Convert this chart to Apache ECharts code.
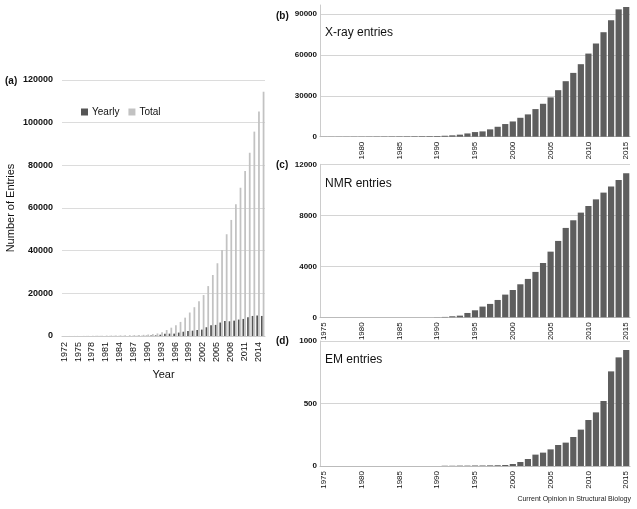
<!DOCTYPE html>
<html><head><meta charset="utf-8">
<script src="https://cdn.jsdelivr.net/npm/echarts@6/dist/echarts.min.js"></script>
<style>html,body{margin:0;padding:0;background:#fff}#c{width:637px;height:509px}</style>
</head><body><div id="c"></div>
<script>
const yearsA = ['1972','1973','1974','1975','1976','1977','1978','1979','1980','1981','1982','1983','1984','1985','1986','1987','1988','1989','1990','1991','1992','1993','1994','1995','1996','1997','1998','1999','2000','2001','2002','2003','2004','2005','2006','2007','2008','2009','2010','2011','2012','2013','2014','2015'];
const yearlyA = [6,7,10,15,15,20,20,30,30,30,30,40,30,40,40,50,60,70,150,200,300,600,1000,1100,1100,1600,2000,2400,2500,2800,3000,4100,5000,5200,6300,7000,6900,7200,7700,8000,8800,9400,9600,9400];
const totalA = [13,20,30,45,60,80,100,130,160,190,220,260,290,330,370,420,480,550,700,900,1200,1800,2800,3900,5000,6600,8600,11000,13500,16300,19200,23400,28600,34100,40300,47700,54400,61700,69500,77300,85900,95800,105200,114500];

const yearsB = ['1975','1976','1977','1978','1979','1980','1981','1982','1983','1984','1985','1986','1987','1988','1989','1990','1991','1992','1993','1994','1995','1996','1997','1998','1999','2000','2001','2002','2003','2004','2005','2006','2007','2008','2009','2010','2011','2012','2013','2014','2015'];
const xray = [30,40,50,70,90,110,130,160,190,220,250,290,330,380,430,500,700,1000,1500,2400,3400,3900,5400,7300,9300,11200,13900,16400,20300,24200,28900,34200,40800,46900,53300,61100,68500,76800,85600,93600,95400];
const nmr = [0,0,0,0,0,0,0,0,0,0,0,0,0,0,0,10,30,80,130,340,550,840,1050,1360,1780,2140,2590,3010,3560,4260,5150,5990,7010,7610,8210,8730,9250,9780,10250,10770,11290];
const em = [0,0,0,0,0,0,0,0,0,0,0,0,0,0,0,0,2,2,3,3,4,4,5,6,8,16,32,56,91,107,133,168,187,232,291,368,429,520,757,869,928];

const FONT = 'Liberation Sans, Arial, Helvetica, sans-serif';
const chart = echarts.init(document.getElementById('c'), null, {renderer: 'canvas'});
const plain = function (v) { return String(v); };

function catAxis(grid, data, opts) {
  return Object.assign({
    type: 'category', gridIndex: grid, data: data,
    axisLine: {show: true, lineStyle: {color: '#bbb', width: 1}},
    axisTick: {show: false},
    axisLabel: {rotate: 90, interval: 4, fontSize: 8, color: '#111', margin: 5, fontFamily: FONT}
  }, opts || {});
}
function valAxis(grid, max, interval, opts) {
  return Object.assign({
    type: 'value', gridIndex: grid, min: 0, max: max, interval: interval,
    axisLine: {show: true, lineStyle: {color: '#ccc'}},
    axisTick: {show: false},
    splitLine: {show: true, lineStyle: {color: '#d4d4d4', width: 1}},
    axisLabel: {fontSize: 8, fontWeight: 'bold', color: '#111', margin: 3, fontFamily: FONT, formatter: plain}
  }, opts || {});
}

const darkBar = '#5e5e5e';

const option = {
  backgroundColor: '#fff',
  animation: false,
  textStyle: {fontFamily: FONT},
  legend: {
    left: 76, top: 102, itemWidth: 7, itemHeight: 7, itemGap: 9, icon: 'rect',
    data: ['Yearly', 'Total'],
    textStyle: {fontSize: 10, color: '#111', fontFamily: FONT, padding: [0, 0, 0, -1]}
  },
  grid: [
    {left: 62, top: 80, width: 203, height: 256},
    {left: 320, top: 5, width: 310, height: 131.7},
    {left: 320, top: 164.3, width: 310, height: 153},
    {left: 320, top: 341, width: 310, height: 125}
  ],
  xAxis: [
    catAxis(0, yearsA, {
      axisLine: {show: true, lineStyle: {color: '#ccc'}},
      axisLabel: {rotate: 90, interval: 2, fontSize: 9, color: '#111', margin: 6, fontFamily: FONT},
      name: 'Year', nameLocation: 'middle', nameGap: 31,
      nameTextStyle: {fontSize: 11, color: '#111', fontFamily: FONT}
    }),
    catAxis(1, yearsB, {
      axisLabel: {rotate: 90, interval: 4, fontSize: 8, color: '#111', margin: 5, fontFamily: FONT,
        formatter: function (v) { return v === '1975' ? '' : v; }}
    }),
    catAxis(2, yearsB),
    catAxis(3, yearsB)
  ],
  yAxis: [
    valAxis(0, 120000, 20000, {
      axisLine: {show: false},
      splitLine: {show: true, lineStyle: {color: '#dcdcdc'}},
      axisLabel: {fontSize: 9, fontWeight: 'bold', color: '#111', margin: 9, fontFamily: FONT, formatter: plain},
      name: 'Number of Entries', nameLocation: 'middle', nameGap: 46,
      nameTextStyle: {fontSize: 11, color: '#111', fontFamily: FONT}
    }),
    valAxis(1, 96800, 30000, {
      splitLine: {show: true, showMaxLine: false, lineStyle: {color: '#d4d4d4'}},
      axisLabel: {fontSize: 8, fontWeight: 'bold', color: '#111', margin: 3, fontFamily: FONT, showMaxLabel: false, formatter: plain}
    }),
    valAxis(2, 12000, 4000),
    valAxis(3, 1000, 500)
  ],
  series: [
    {name: 'Yearly', type: 'bar', xAxisIndex: 0, yAxisIndex: 0, data: yearlyA,
      itemStyle: {color: '#555'}, barGap: '0%', barCategoryGap: '24%'},
    {name: 'Total', type: 'bar', xAxisIndex: 0, yAxisIndex: 0, data: totalA,
      itemStyle: {color: '#c2c2c2'}, barGap: '0%', barCategoryGap: '24%'},
    {name: 'X-ray', type: 'bar', xAxisIndex: 1, yAxisIndex: 1, data: xray,
      itemStyle: {color: darkBar}, barCategoryGap: '18%'},
    {name: 'NMR', type: 'bar', xAxisIndex: 2, yAxisIndex: 2, data: nmr,
      itemStyle: {color: darkBar}, barCategoryGap: '18%'},
    {name: 'EM', type: 'bar', xAxisIndex: 3, yAxisIndex: 3, data: em,
      itemStyle: {color: darkBar}, barCategoryGap: '18%'}
  ],
  graphic: [
    {type: 'text', x: 5, y: 81, style: {text: '(a)', fontSize: 10, fontWeight: 'bold', fill: '#111', fontFamily: FONT, verticalAlign: 'middle'}},
    {type: 'text', x: 276, y: 16, style: {text: '(b)', fontSize: 10, fontWeight: 'bold', fill: '#111', fontFamily: FONT, verticalAlign: 'middle'}},
    {type: 'text', x: 276, y: 165, style: {text: '(c)', fontSize: 10, fontWeight: 'bold', fill: '#111', fontFamily: FONT, verticalAlign: 'middle'}},
    {type: 'text', x: 276, y: 341, style: {text: '(d)', fontSize: 10, fontWeight: 'bold', fill: '#111', fontFamily: FONT, verticalAlign: 'middle'}},
    {type: 'text', x: 325, y: 33, style: {text: 'X-ray entries', fontSize: 12, fill: '#111', fontFamily: FONT, verticalAlign: 'middle'}},
    {type: 'text', x: 325, y: 184, style: {text: 'NMR entries', fontSize: 12, fill: '#111', fontFamily: FONT, verticalAlign: 'middle'}},
    {type: 'text', x: 325, y: 360, style: {text: 'EM entries', fontSize: 12, fill: '#111', fontFamily: FONT, verticalAlign: 'middle'}},
    {type: 'text', x: 631, y: 499, style: {text: 'Current Opinion in Structural Biology', fontSize: 7, fill: '#222', fontFamily: FONT, align: 'right', verticalAlign: 'middle'}}
  ]
};
chart.setOption(option);
</script>
</body></html>
